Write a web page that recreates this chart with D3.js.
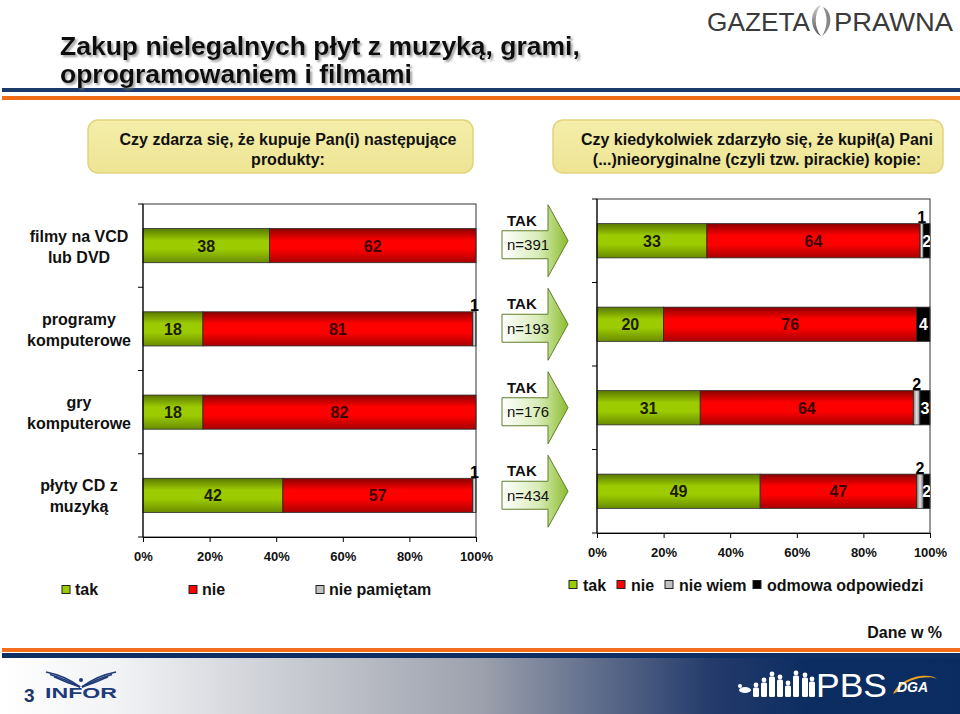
<!DOCTYPE html>
<html><head><meta charset="utf-8">
<script src="https://cdn.jsdelivr.net/npm/d3@7"></script>
<style>
body{margin:0;background:#fff}
svg{display:block}
text{font-family:"Liberation Sans",Arial,sans-serif}
</style>
</head><body>
<svg id="c" width="960" height="714"></svg>
<script>
// ---------- DATA ----------
const categories = ["filmy na VCD|lub DVD", "programy|komputerowe", "gry|komputerowe", "płyty CD z|muzyką"];
const leftSeries = ["tak", "nie", "nie pamiętam"];
const leftTak = [38, 18, 18, 42];
const leftNie = [62, 81, 82, 57];
const leftNiePamietam = [0, 1, 0, 1];
const rightSeries = ["tak", "nie", "nie wiem", "odmowa odpowiedzi"];
const rightTak = [33, 20, 31, 49];
const rightNie = [64, 76, 64, 47];
const rightNieWiem = [1, 0, 2, 2];
const rightOdmowa = [2, 4, 3, 2];
const sampleN = [391, 193, 176, 434];
const xTicks = [0, 20, 40, 60, 80, 100];
const titleLines = ["Zakup nielegalnych płyt z muzyką, grami,", "oprogramowaniem i filmami"];
const leftQuestion = ["Czy zdarza się, że kupuje Pan(i) następujące", "produkty:"];
const rightQuestion = ["Czy kiedykolwiek zdarzyło się, że kupił(a) Pani", "(...)nieoryginalne (czyli tzw. pirackie) kopie:"];

// ---------- SETUP ----------
const svg = d3.select("#c");
const defs = svg.append("defs");

function vGrad(id, stops, horizontal) {
  const g = defs.append("linearGradient").attr("id", id)
    .attr("x1", 0).attr("y1", 0).attr("x2", horizontal ? 1 : 0).attr("y2", horizontal ? 0 : 1);
  stops.forEach(s => g.append("stop").attr("offset", s[0]).attr("stop-color", s[1]));
}
vGrad("gTak", [[0, "#5a7800"], [0.35, "#9ccc00"], [0.6, "#9ccc00"], [1, "#6a8c00"]]);
vGrad("gNie", [[0, "#8a0000"], [0.35, "#ff0000"], [0.6, "#ff0000"], [1, "#a80000"]]);
vGrad("gGray", [[0, "#7a7a7a"], [0.5, "#e4e4e4"], [1, "#7a7a7a"]], true);
vGrad("gArrow", [[0, "#ffffff"], [0.55, "#d8ecb8"], [1, "#8dbd2e"]], true);
vGrad("gFooter", [[0, "#ffffff"], [0.12, "#f2f3f5"], [0.5, "#9da1ad"], [0.74, "#243b6b"], [0.84, "#0c2d61"], [1, "#0b2c60"]], true);
vGrad("gBox", [[0, "#f4eeaa"], [1, "#ede493"]]);
vGrad("gSwirl", [[0, "#cccccc"], [1, "#555555"]]);

const sh = defs.append("filter").attr("id", "shadow").attr("x", "-5%").attr("y", "-20%").attr("width", "110%").attr("height", "150%");
sh.append("feDropShadow").attr("dx", 2).attr("dy", 2).attr("stdDeviation", 1.2).attr("flood-color", "#777").attr("flood-opacity", 0.7);

const fillFor = {tak: "url(#gTak)", nie: "url(#gNie)", np: "url(#gGray)", nw: "url(#gGray)", od: "#000"};

// ---------- HEADER ----------
svg.append("rect").attr("x", 2).attr("y", 88).attr("width", 958).attr("height", 4).attr("fill", "#1c3a6c");
svg.append("rect").attr("x", 2).attr("y", 96).attr("width", 958).attr("height", 4).attr("fill", "#f06c14");
svg.selectAll("text.title").data(titleLines).join("text").attr("class", "title")
  .attr("x", 60).attr("y", (d, i) => 55 + i * 28)
  .attr("font-size", 26.5).attr("font-weight", "bold").attr("fill", "#111")
  .attr("filter", "url(#shadow)").text(d => d);

// Gazeta Prawna logo
svg.append("text").attr("x", 707).attr("y", 31).attr("font-size", 25).attr("fill", "#3a3a3a")
  .attr("font-family", "DejaVu Sans").attr("textLength", 103).attr("lengthAdjust", "spacingAndGlyphs").text("GAZETA");
svg.append("path").attr("d", "M821,5 C809,10 809,30 821,36 C814,28 814,13 821,5 Z").attr("fill", "url(#gSwirl)");
svg.append("path").attr("d", "M823,7 C833,12 833,28 822,36 C828,27 828,15 823,7 Z").attr("fill", "#888");
svg.append("text").attr("x", 834).attr("y", 31).attr("font-size", 25).attr("fill", "#3a3a3a")
  .attr("font-family", "DejaVu Sans").attr("textLength", 119).attr("lengthAdjust", "spacingAndGlyphs").text("PRAWNA");

// question boxes
function qBox(x, w, cx, lines) {
  svg.append("rect").attr("x", x).attr("y", 120).attr("width", w).attr("height", 53).attr("rx", 10)
    .attr("fill", "url(#gBox)").attr("stroke", "#e2d47c").attr("stroke-width", 1.5);
  svg.append("g").selectAll("text").data(lines).join("text")
    .attr("x", cx).attr("y", (d, i) => 145 + i * 20).attr("text-anchor", "middle")
    .attr("font-size", 16).attr("font-weight", "bold").attr("fill", "#111").text(d => d);
}
qBox(88, 385, 288, leftQuestion);
qBox(553, 390, 757, rightQuestion);

// ---------- CHART FUNCTION ----------
function drawChart(opts) {
  const {x0, x1, y0, y1, rows, keys, id} = opts;
  const x = d3.scaleLinear().domain([0, 100]).range([x0, x1]);
  const y = d3.scaleBand().domain(categories).range([y0, y1]).paddingInner(0.59).paddingOuter(0.295);
  const g = svg.append("g");
  defs.append("clipPath").attr("id", "clip" + id).append("rect")
    .attr("x", x0).attr("y", y0).attr("width", x1 - x0).attr("height", y1 - y0);

  const stacked = d3.stack().keys(keys)(rows);
  stacked.forEach(layer => {
    const key = layer.key;
    g.append("g").selectAll("rect").data(layer.filter(d => d[1] - d[0] > 0)).join("rect")
      .attr("x", d => x(d[0])).attr("width", d => x(d[1]) - x(d[0]))
      .attr("y", d => y(d.data.cat)).attr("height", y.bandwidth())
      .attr("fill", fillFor[key]).attr("stroke", "#2a2a2a").attr("stroke-width", 0.8);
  });
  // frame
  g.append("rect").attr("x", x0).attr("y", y0).attr("width", x1 - x0).attr("height", y1 - y0)
    .attr("fill", "none").attr("stroke", "#333").attr("stroke-width", 1);
  // labels
  stacked.forEach(layer => {
    const key = layer.key;
    const data = layer.filter(d => d[1] - d[0] > 0);
    const lg = g.append("g").attr("font-weight", "bold");
    if (key === "tak" || key === "nie") {
      lg.selectAll("text").data(data).join("text")
        .attr("x", d => x((d[0] + d[1]) / 2)).attr("y", d => y(d.data.cat) + y.bandwidth() / 2 + 6)
        .attr("text-anchor", "middle").attr("font-size", 16)
        .attr("fill", key === "tak" ? "#1c1c00" : "#3a0000").text(d => d[1] - d[0]);
    } else if (key === "np" || key === "nw") {
      lg.selectAll("text").data(data).join("text")
        .attr("x", d => x((d[0] + d[1]) / 2)).attr("y", d => y(d.data.cat) - 0.5)
        .attr("text-anchor", "middle").attr("font-size", 16).attr("fill", "#000").text(d => d[1] - d[0]);
    } else {
      lg.attr("clip-path", "url(#clip" + id + ")").selectAll("text").data(data).join("text")
        .attr("x", d => x((d[0] + d[1]) / 2)).attr("y", d => y(d.data.cat) + y.bandwidth() / 2 + 6)
        .attr("text-anchor", "middle").attr("font-size", 16).attr("fill", "#fff").text(d => d[1] - d[0]);
    }
  });
  // left axis ticks at band boundaries
  const bounds = d3.range(categories.length + 1).map(i => y0 + i * y.step());
  g.append("g").selectAll("line").data(bounds).join("line")
    .attr("x1", x0 - 5).attr("x2", x0).attr("y1", d => d).attr("y2", d => d).attr("stroke", "#000");
  g.append("line").attr("x1", x0).attr("x2", x0).attr("y1", y0).attr("y2", y1).attr("stroke", "#000");
  // bottom axis
  const ax = g.append("g").attr("transform", `translate(0,${y1})`)
    .call(d3.axisBottom(x).tickValues(xTicks).tickFormat(d => d + "%").tickSize(5).tickSizeOuter(0).tickPadding(10));
  ax.select(".domain").attr("stroke", "#000");
  ax.selectAll(".tick line").attr("stroke", "#000");
  ax.selectAll("text").attr("font-size", 13).attr("font-weight", "bold").attr("fill", "#111")
    .attr("font-family", '"Liberation Sans",Arial,sans-serif');
  return {x, y};
}

const leftRows = categories.map((c, i) => ({cat: c, tak: leftTak[i], nie: leftNie[i], np: leftNiePamietam[i]}));
const rightRows = categories.map((c, i) => ({cat: c, tak: rightTak[i], nie: rightNie[i], nw: rightNieWiem[i], od: rightOdmowa[i]}));

const L = drawChart({id: "L", x0: 143, x1: 476, y0: 204, y1: 537, rows: leftRows, keys: ["tak", "nie", "np"]});
const R = drawChart({id: "R", x0: 597, x1: 930, y0: 199, y1: 533, rows: rightRows, keys: ["tak", "nie", "nw", "od"]});

// category labels
svg.append("g").selectAll("text").data(categories).join("text")
  .attr("text-anchor", "middle").attr("font-size", 16).attr("font-weight", "bold").attr("fill", "#111")
  .each(function (d) {
    const parts = d.split("|");
    const cy = L.y(d) + L.y.bandwidth() / 2;
    d3.select(this).selectAll("tspan").data(parts).join("tspan")
      .attr("x", 79).attr("y", (p, i) => cy - 4 + i * 21).text(p => p);
  });

// arrows "TAK n=..."
const ag = svg.append("g");
categories.forEach((c, i) => {
  const cy = R.y(c) + R.y.bandwidth() / 2;
  const bx = 502, hx = 548, tx = 568;
  ag.append("path")
    .attr("d", `M${bx},${cy - 10} L${hx},${cy - 10} L${hx},${cy - 36} L${tx},${cy} L${hx},${cy + 36} L${hx},${cy + 18} L${bx},${cy + 18} Z`)
    .attr("fill", "url(#gArrow)").attr("stroke", "#5f7f2a").attr("stroke-width", 1);
  ag.append("text").attr("x", 507).attr("y", cy - 15).attr("font-size", 15).attr("font-weight", "bold")
    .attr("fill", "#111").text("TAK");
  ag.append("text").attr("x", 507).attr("y", cy + 9.5).attr("font-size", 15).attr("fill", "#111")
    .text("n=" + sampleN[i]);
});

// legends
const legColors = {"tak": "#99cc00", "nie": "#ff0000", "nie pamiętam": "#c0c0c0", "nie wiem": "#c0c0c0", "odmowa odpowiedzi": "#000"};
const leftLegX = [62, 189, 316];
const lg1 = svg.append("g");
leftSeries.forEach((s, i) => {
  lg1.append("rect").attr("x", leftLegX[i]).attr("y", 585.5).attr("width", 8).attr("height", 8)
    .attr("fill", legColors[s]).attr("stroke", "#222").attr("stroke-width", 1);
  lg1.append("text").attr("x", leftLegX[i] + 13).attr("y", 595).attr("font-size", 16).attr("font-weight", "bold")
    .attr("fill", "#111").text(s);
});
const rightLegX = [569, 617, 665, 753];
const lg2 = svg.append("g");
rightSeries.forEach((s, i) => {
  lg2.append("rect").attr("x", rightLegX[i]).attr("y", 580.5).attr("width", 8).attr("height", 8)
    .attr("fill", legColors[s]).attr("stroke", "#222").attr("stroke-width", 1);
  lg2.append("text").attr("x", rightLegX[i] + 14).attr("y", 590.5).attr("font-size", 16).attr("font-weight", "bold")
    .attr("fill", "#111").text(s);
});
svg.append("text").attr("x", 942).attr("y", 638).attr("text-anchor", "end").attr("font-size", 16)
  .attr("font-weight", "bold").attr("fill", "#111").text("Dane w %");

// ---------- FOOTER ----------
svg.append("rect").attr("x", 2).attr("y", 648).attr("width", 958).attr("height", 4).attr("fill", "#f36f1c");
svg.append("rect").attr("x", 2).attr("y", 653).attr("width", 958).attr("height", 5).attr("fill", "#0e2f64");
svg.append("rect").attr("x", 0).attr("y", 658).attr("width", 960).attr("height", 56).attr("fill", "url(#gFooter)");
svg.append("text").attr("x", 24).attr("y", 702).attr("font-size", 19).attr("font-weight", "bold").attr("fill", "#1b3566").text("3");
svg.append("text").attr("x", 45).attr("y", 698).attr("font-size", 14).attr("font-weight", "bold").attr("fill", "#1e3a78")
  .attr("font-family", "Liberation Serif").attr("textLength", 72).attr("lengthAdjust", "spacingAndGlyphs").text("INFOR");
const wing = svg.append("g").attr("fill", "none").attr("stroke", "#1e3a78").attr("stroke-width", 1.6);
[0, 4, 8].forEach(k => {
  wing.append("path").attr("d", `M${46 + k},${672 + k * 0.6} Q${66},${676 + k * 0.8} ${80},${687}`);
  wing.append("path").attr("d", `M${116 - k},${672 + k * 0.6} Q${96},${676 + k * 0.8} ${82},${687}`);
});
svg.append("circle").attr("cx", 81).attr("cy", 680).attr("r", 2).attr("fill", "#1e3a78");

// PBS silhouettes (decorative)
const sil = svg.append("g").attr("fill", "#fff");
sil.append("ellipse").attr("cx", 745).attr("cy", 690).attr("rx", 6).attr("ry", 3);
sil.append("circle").attr("cx", 740).attr("cy", 686).attr("r", 2);
[[756, 12], [764, 17], [772, 23], [780, 20], [788, 14], [796, 24], [805, 22], [812, 18]].forEach(p => {
  const [cx, h] = p;
  sil.append("circle").attr("cx", cx).attr("cy", 697 - h).attr("r", 2.4);
  sil.append("rect").attr("x", cx - 3).attr("y", 697 - h + 2.5).attr("width", 6).attr("height", h - 2.5).attr("rx", 1.5);
});
svg.append("text").attr("x", 816).attr("y", 697).attr("font-size", 33).attr("fill", "#fff")
  .attr("textLength", 71).attr("lengthAdjust", "spacingAndGlyphs").text("PBS");
svg.append("path").attr("d", "M893,694 C900,676 930,672 937,679 C930,675 904,678 897,692 Z").attr("fill", "#f0a21e");
svg.append("text").attr("x", 897).attr("y", 692).attr("font-size", 14).attr("font-weight", "bold")
  .attr("font-style", "italic").attr("fill", "#fff").text("DGA");
</script>
</body></html>
